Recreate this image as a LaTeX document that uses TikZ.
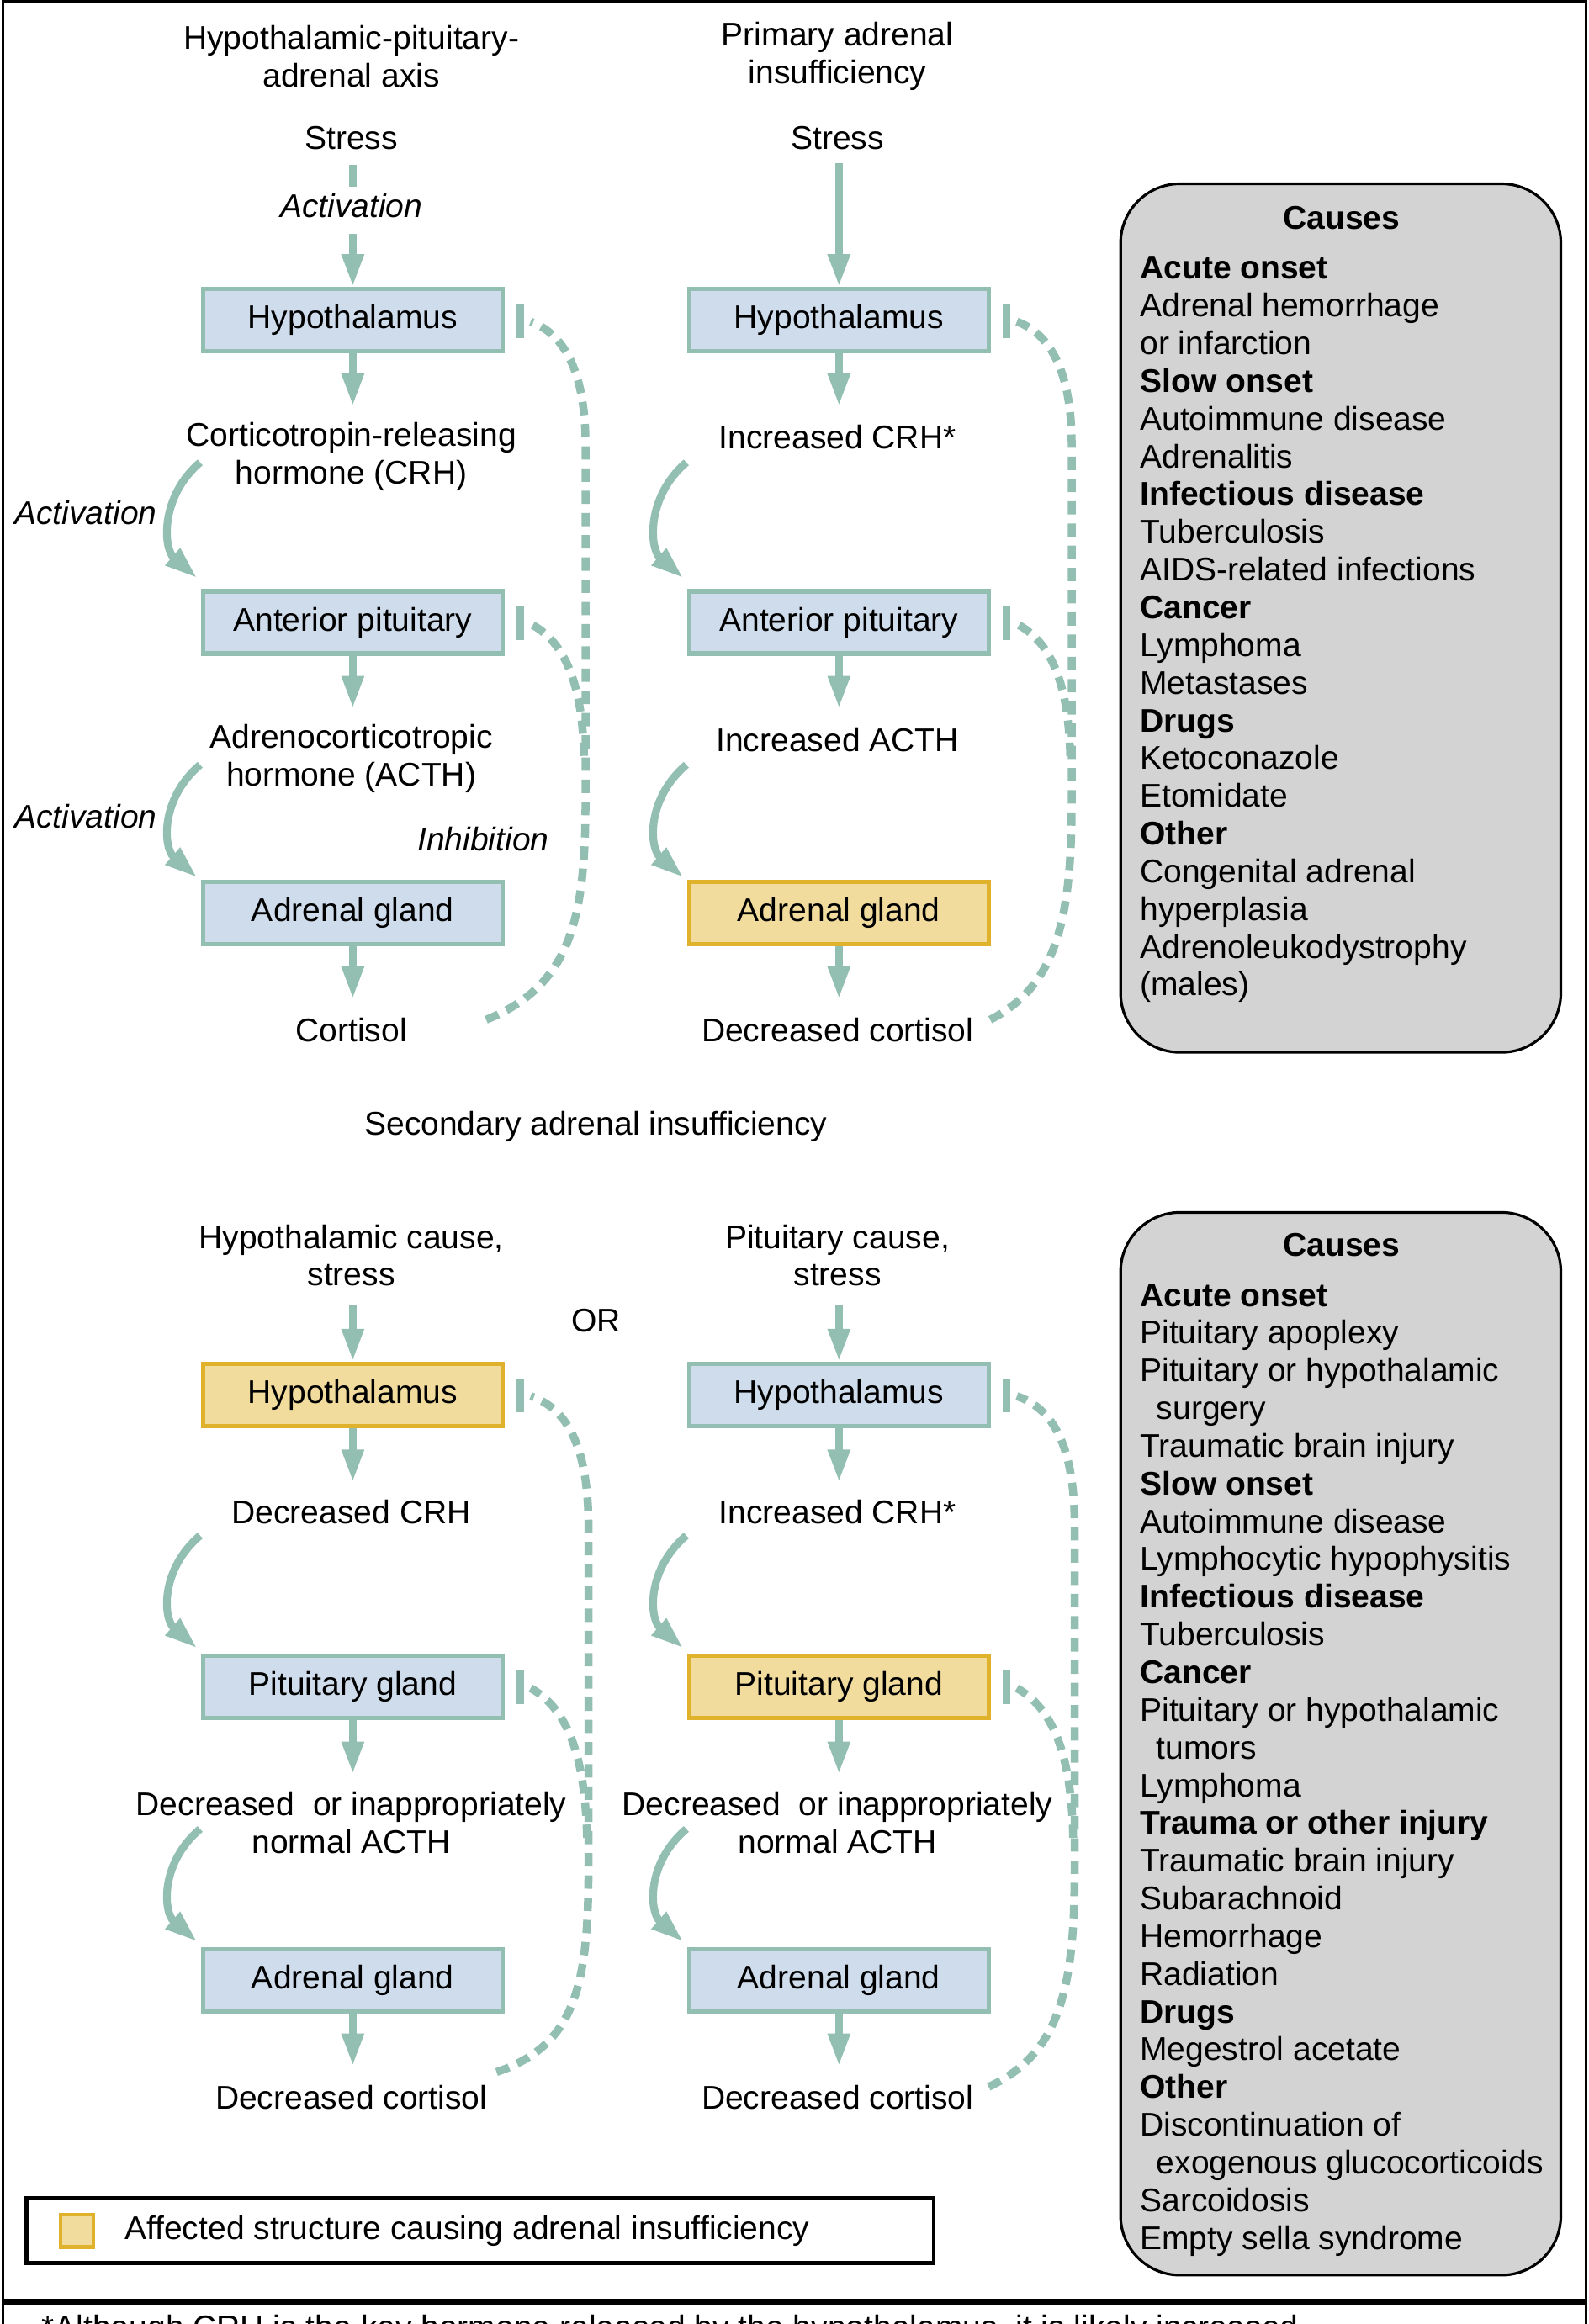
\documentclass[tikz,border=0pt]{standalone}
\usepackage{fontspec}
\setmainfont{Liberation Sans}
\usetikzlibrary{arrows.meta}
\definecolor{tl}{HTML}{93BFB2}
\definecolor{bx}{HTML}{CFDCEC}
\definecolor{yf}{HTML}{F1DC9D}
\definecolor{yb}{HTML}{E0B12B}
\definecolor{gr}{HTML}{D3D3D3}
\begin{document}
\begin{tikzpicture}[x=0.5mm,y=-0.5mm,
  txt/.style={font=\fontsize{31.5}{36.2}\selectfont,align=center,inner sep=0},
  it/.style={txt,font=\fontsize{31.5}{36.2}\selectfont\itshape},
  box/.style={txt,draw=tl,fill=bx,line width=1.5mm,minimum width=202*0.5mm,minimum height=42*0.5mm},
  ybox/.style={box,draw=yb,fill=yf},
  arr/.style={draw=tl,line width=2.6mm,-{Triangle[length=11mm,width=7mm]}},
  inh/.style={draw=tl,line width=2.7mm,dash pattern=on 4.5mm off 3mm},
  bar/.style={draw=tl,line width=2.6mm},
  cz/.style={draw=black,fill=gr,line width=0.9mm,rounded corners=20mm},
  ctext/.style={font=\fontsize{31.5}{36.2}\selectfont,align=left,inner sep=0,anchor=north west}]
\useasboundingbox (0,0) rectangle (1072,1568);
\draw[line width=0.9mm] (2,1568) -- (2,1) -- (1070,1) -- (1070,1568);
\draw[line width=1.8mm] (2,1553) -- (1070,1553);
\begin{scope}
\clip (0,1555) rectangle (1072,1568);
\node[txt,anchor=north west] (fn) at (28,1562) {*Although CRH is the key hormone released by the hypothalamus, it is likely increased};
\end{scope}

% ---------- Column A upper
\node[txt] (tA) at (237,38) {Hypothalamic-pituitary-\\adrenal axis};
\node[txt] (sA) at (237,93) {Stress};
\node[it] (acA) at (237,139) {Activation};
\node[box] (hA) at (238,216) {Hypothalamus};
\node[txt] (crhA) at (237,308) {Corticotropin-releasing\\hormone (CRH)};
\node[it,anchor=east] (ac1) at (106,346) {Activation};
\node[box] (apA) at (238,420) {Anterior pituitary};
\node[txt] (acthA) at (237,512) {Adrenocorticotropic\\hormone (ACTH)};
\node[it,anchor=east] (ac2) at (106,551) {Activation};
\node[it] (inA) at (326,566) {Inhibition};
\node[box] (agA) at (238,616) {Adrenal gland};
\node[txt] (coA) at (237,695) {Cortisol};
\draw[draw=tl,line width=2.6mm] (238,111) -- (238,126);
\draw[arr] (238,158) -- (hA.north);
\draw[arr] (hA.south) -- (238,274);
\draw[arr] (apA.south) -- (238,478);
\draw[arr] (agA.south) -- (238,674);
\coordinate (c1s) at (135,312); \coordinate (c1e) at (133,390);
\draw[arr] (c1s) .. controls (108,335) and (110,370) .. (c1e);
\coordinate (c2s) at (135,516); \coordinate (c2e) at (133,592);
\draw[arr] (c2s) .. controls (108,539) and (110,572) .. (c2e);
\coordinate (iA1) at (328,688); \coordinate (iA2) at (358,217); \coordinate (iA3) at (358,421);
\draw[inh] (iA1) .. controls (385,665) and (395,620) .. (395,540) -- (395,300) .. controls (395,250) and (380,225) .. (iA2);
\draw[inh] (394,510) .. controls (393,470) and (385,435) .. (iA3);
\draw[bar] (351,205) -- (351,228);
\draw[bar] (351,409) -- (351,432);

% ---------- Column B upper
\node[txt] (tB) at (565,38) {Primary adrenal\\insufficiency};
\node[txt] (sB) at (565,93) {Stress};
\node[box] (hB) at (566,216) {Hypothalamus};
\node[txt] (crhB) at (565,295) {Increased CRH*};
\node[box] (apB) at (566,420) {Anterior pituitary};
\node[txt] (acthB) at (565,499) {Increased ACTH};
\node[ybox] (agB) at (566,616) {Adrenal gland};
\node[txt] (coB) at (565,695) {Decreased cortisol};
\draw[arr] (566,110) -- (hB.north);
\draw[arr] (hB.south) -- (566,274);
\draw[arr] (apB.south) -- (566,478);
\draw[arr] (agB.south) -- (566,674);
\coordinate (c3s) at (463,312); \coordinate (c3e) at (461,390);
\draw[arr] (c3s) .. controls (436,335) and (438,370) .. (c3e);
\coordinate (c4s) at (463,516); \coordinate (c4e) at (461,592);
\draw[arr] (c4s) .. controls (436,539) and (438,572) .. (c4e);
\coordinate (iB1) at (668,688); \coordinate (iB2) at (686,217); \coordinate (iB3) at (686,421);
\draw[inh] (iB1) .. controls (713,665) and (723,620) .. (723,540) -- (723,300) .. controls (723,250) and (708,225) .. (iB2);
\draw[inh] (722,510) .. controls (721,470) and (713,435) .. (iB3);
\draw[bar] (679,205) -- (679,228);
\draw[bar] (679,409) -- (679,432);

% ---------- Causes 1
\draw[cz] (756,124) rectangle (1053,710);
\node[txt,font=\fontsize{31.5}{36.2}\selectfont\bfseries] (cz1) at (905,147) {Causes};
\node[ctext] (l1) at (769,173) {\textbf{Acute onset}\\Adrenal hemorrhage\\or infarction\\\textbf{Slow onset}\\Autoimmune disease\\Adrenalitis\\\textbf{Infectious disease}\\Tuberculosis\\AIDS-related infections\\\textbf{Cancer}\\Lymphoma\\Metastases\\\textbf{Drugs}\\Ketoconazole\\Etomidate\\\textbf{Other}\\Congenital adrenal\\hyperplasia\\Adrenoleukodystrophy\\(males)};

\node[txt] (sec) at (402,760) {Secondary adrenal insufficiency};
\node[txt] (or) at (402,891) {OR};

% ---------- Column A lower
\node[txt] (tC) at (237,847) {Hypothalamic cause,\\stress};
\node[ybox] (hC) at (238,941) {Hypothalamus};
\node[txt] (crhC) at (237,1020) {Decreased CRH};
\node[box] (pC) at (238,1138) {Pituitary gland};
\node[txt] (acthC) at (237,1230) {Decreased\ \ or inappropriately\\normal ACTH};
\node[box] (agC) at (238,1336) {Adrenal gland};
\node[txt] (coC) at (237,1415) {Decreased cortisol};
\draw[arr] (238,880) -- (hC.north);
\draw[arr] (hC.south) -- (238,1000);
\draw[arr] (pC.south) -- (238,1197);
\draw[arr] (agC.south) -- (238,1394);
\coordinate (c5s) at (135,1036); \coordinate (c5e) at (133,1112);
\draw[arr] (c5s) .. controls (108,1059) and (110,1092) .. (c5e);
\coordinate (c6s) at (135,1234); \coordinate (c6e) at (133,1310);
\draw[arr] (c6s) .. controls (108,1257) and (110,1290) .. (c6e);
\coordinate (iC1) at (335,1398); \coordinate (iC2) at (358,942); \coordinate (iC3) at (358,1139);
\draw[inh] (iC1) .. controls (388,1380) and (397,1340) .. (397,1260) -- (397,1030) .. controls (397,975) and (382,950) .. (iC2);
\draw[inh] (396,1240) .. controls (395,1195) and (387,1155) .. (iC3);
\draw[bar] (351,930) -- (351,953);
\draw[bar] (351,1127) -- (351,1150);

% ---------- Column B lower
\node[txt] (tD) at (565,847) {Pituitary cause,\\stress};
\node[box] (hD) at (566,941) {Hypothalamus};
\node[txt] (crhD) at (565,1020) {Increased CRH*};
\node[ybox] (pD) at (566,1138) {Pituitary gland};
\node[txt] (acthD) at (565,1230) {Decreased\ \ or inappropriately\\normal ACTH};
\node[box] (agD) at (566,1336) {Adrenal gland};
\node[txt] (coD) at (565,1415) {Decreased cortisol};
\draw[arr] (566,880) -- (hD.north);
\draw[arr] (hD.south) -- (566,1000);
\draw[arr] (pD.south) -- (566,1197);
\draw[arr] (agD.south) -- (566,1394);
\coordinate (c7s) at (463,1036); \coordinate (c7e) at (461,1112);
\draw[arr] (c7s) .. controls (436,1059) and (438,1092) .. (c7e);
\coordinate (c8s) at (463,1234); \coordinate (c8e) at (461,1310);
\draw[arr] (c8s) .. controls (436,1257) and (438,1290) .. (c8e);
\coordinate (iD1) at (667,1408); \coordinate (iD2) at (686,942); \coordinate (iD3) at (686,1139);
\draw[inh] (iD1) .. controls (716,1385) and (725,1340) .. (725,1260) -- (725,1030) .. controls (725,975) and (710,950) .. (iD2);
\draw[inh] (724,1240) .. controls (723,1195) and (715,1155) .. (iD3);
\draw[bar] (679,930) -- (679,953);
\draw[bar] (679,1127) -- (679,1150);

% ---------- Causes 2
\draw[cz] (756,818) rectangle (1053,1535);
\node[txt,font=\fontsize{31.5}{36.2}\selectfont\bfseries] (cz2) at (905,840) {Causes};
\node[ctext] (l2) at (769,866) {\textbf{Acute onset}\\Pituitary apoplexy\\Pituitary or hypothalamic\\\hspace*{0.5em}surgery\\Traumatic brain injury\\\textbf{Slow onset}\\Autoimmune disease\\Lymphocytic hypophysitis\\\textbf{Infectious disease}\\Tuberculosis\\\textbf{Cancer}\\Pituitary or hypothalamic\\\hspace*{0.5em}tumors\\Lymphoma\\\textbf{Trauma or other injury}\\Traumatic brain injury\\Subarachnoid\\Hemorrhage\\Radiation\\\textbf{Drugs}\\Megestrol acetate\\\textbf{Other}\\Discontinuation of\\\hspace*{0.5em}exogenous glucocorticoids\\Sarcoidosis\\Empty sella syndrome};

% ---------- Legend
\draw[line width=1.3mm] (18,1483) rectangle (630,1527);
\node[draw=yb,fill=yf,line width=1.2mm,minimum width=11mm,minimum height=11mm,inner sep=0] (lg) at (52,1505) {};
\node[txt,anchor=west] (lgt) at (84,1505) {Affected structure causing adrenal insufficiency};
\end{tikzpicture}
\end{document}
